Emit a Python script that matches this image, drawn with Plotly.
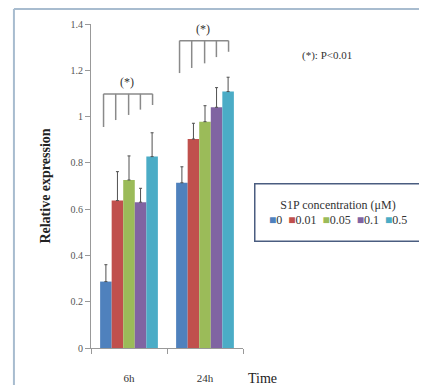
import plotly.graph_objects as go

times = ["6h", "24h"]
concentrations = ["0", "0.01", "0.05", "0.1", "0.5"]
colors = ["#4F81BD", "#C0504D", "#9BBB59", "#8064A2", "#4BACC6"]
means = [
    [0.287, 0.714],
    [0.637, 0.903],
    [0.726, 0.978],
    [0.630, 1.040],
    [0.827, 1.108],
]
errors = [
    [0.073, 0.069],
    [0.125, 0.068],
    [0.104, 0.069],
    [0.060, 0.085],
    [0.103, 0.062],
]
y_ticks = [0, 0.2, 0.4, 0.6, 0.8, 1, 1.2, 1.4]
y_ticklabels = ["0", "0.2", "0.4", "0.6", "0.8", "1", "1.2", "1.4"]

# significance brackets (per time point)
bracket_offsets = [-0.335, -0.175, -0.005, 0.15, 0.31]
bracket_tops = [1.098, 1.328]
bracket_bottoms = [
    [0.955, 0.985, 1.007, 1.03, 1.05],
    [1.188, 1.21, 1.23, 1.257, 1.28],
]
star_y = [1.15, 1.38]

SERIF = "Liberation Serif"

fig = go.Figure()
for name, col, m, e in zip(concentrations, colors, means, errors):
    fig.add_trace(go.Bar(
        x=times, y=m, name=name, marker=dict(color=col, line=dict(width=0)),
        error_y=dict(type="data", array=e, arrayminus=[0] * len(e), symmetric=False,
                     color="#505050", thickness=1, width=1.5),
        showlegend=False,
    ))

shapes = []
annotations = []
for i, t in enumerate(times):
    left = i + bracket_offsets[0]
    right = i + bracket_offsets[-1]
    shapes.append(dict(type="line", xref="x", yref="y", x0=left, x1=right,
                       y0=bracket_tops[i], y1=bracket_tops[i],
                       line=dict(color="#8a8a8a", width=1.5)))
    for off, bot in zip(bracket_offsets, bracket_bottoms[i]):
        shapes.append(dict(type="line", xref="x", yref="y", x0=i + off, x1=i + off,
                           y0=bot, y1=bracket_tops[i],
                           line=dict(color="#8a8a8a", width=1.5)))
    annotations.append(dict(x=i - 0.02, y=star_y[i], xref="x", yref="y", text="(*)",
                            xanchor="center", yanchor="middle",
                            showarrow=False, font=dict(family=SERIF, size=12, color="#333")))

# frame lines
shapes.append(dict(type="line", xref="paper", yref="paper", x0=-0.507, x1=2.2, y0=1.046, y1=1.046,
                   line=dict(color="#a8bccf", width=2)))
shapes.append(dict(type="line", xref="paper", yref="paper", x0=-0.507, x1=-0.507, y0=1.046, y1=-0.2,
                   line=dict(color="#a8bccf", width=2)))

annotations.append(dict(x=1.553, y=0.904, xref="paper", yref="paper", text="(*): P<0.01",
                        xanchor="center", yanchor="middle",
                        showarrow=False, font=dict(family=SERIF, size=11, color="#333")))
annotations.append(dict(x=1.13, y=-0.093, xref="paper", yref="paper", text="Time",
                        xanchor="center", yanchor="middle",
                        showarrow=False, font=dict(family=SERIF, size=14, color="#222")))

# custom legend
items = "&nbsp;&nbsp;".join(f'<span style="color:{c}">■</span>{n}' for c, n in zip(colors, concentrations))
annotations.append(dict(x=1.628, y=0.417, xref="paper", yref="paper",
                        xanchor="center", yanchor="middle",
                        text="S1P concentration (μM)<br>" + items,
                        showarrow=False, align="center",
                        font=dict(family=SERIF, size=12, color="#333"),
                        bordercolor="#4a5d80", borderwidth=1.5, borderpad=4,
                        bgcolor="white", width=157, height=48))

fig.update_layout(
    width=419, height=377,
    margin=dict(l=83, r=184, t=16, b=37),
    paper_bgcolor="white", plot_bgcolor="white",
    barmode="group", bargap=0.24, bargroupgap=0,
    shapes=shapes, annotations=annotations,
    font=dict(family=SERIF, color="#444"),
)
fig.update_xaxes(
    automargin=False,
    showline=True, linecolor="#999", linewidth=1,
    ticks="outside", tickson="boundaries", ticklen=5, tickcolor="#999",
    tickfont=dict(family=SERIF, size=11, color="#333"),
    ticklabelstandoff=20, showgrid=False,
)
fig.update_yaxes(
    automargin=False,
    range=[0, 1.4], tickvals=y_ticks, ticktext=y_ticklabels,
    showline=True, linecolor="#999", linewidth=1,
    ticks="outside", ticklen=5, tickcolor="#999",
    tickfont=dict(family=SERIF, size=10, color="#555"),
    showgrid=False, zeroline=False,
    title=dict(text="<b>Relative expression</b>", standoff=16,
               font=dict(family=SERIF, size=14, color="#222")),
)

fig.write_html("out.html")
